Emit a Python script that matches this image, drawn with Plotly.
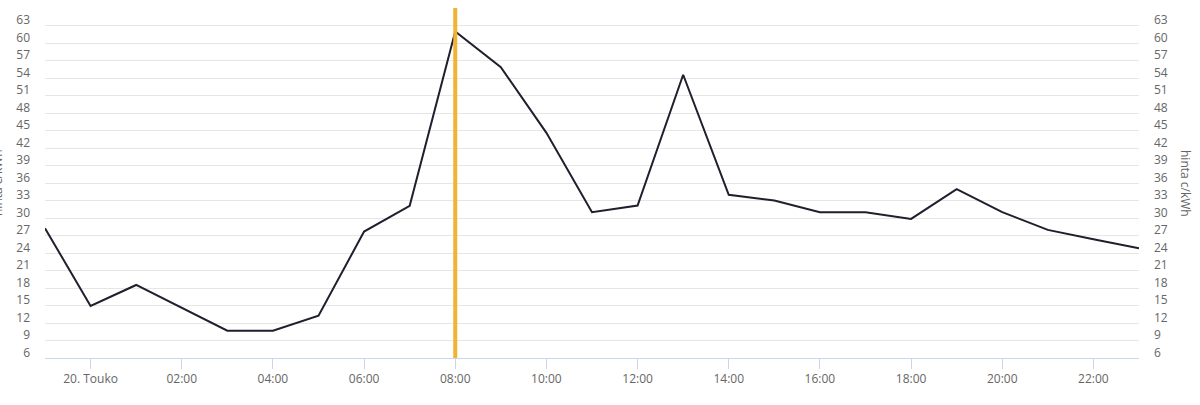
import plotly.graph_objects as go
import pandas as pd

# Hourly timestamps: 19 May 23:00 .. 20 May 23:00
times = pd.date_range("2023-05-19 23:00", "2023-05-20 23:00", freq="h")
prices = [25.25, 11.92, 15.52, 11.6, 7.68, 7.68, 10.26, 24.67, 29.08, 58.98,
          52.84, 41.6, 28.0, 29.13, 51.56, 30.97, 29.99, 28.0, 28.0, 26.85,
          31.94, 28.0, 24.96, 23.36, 21.82]

x_tick_vals = pd.date_range("2023-05-20 00:00", "2023-05-20 22:00", freq="2h")
x_tick_text = ["20. Touko", "02:00", "04:00", "06:00", "08:00", "10:00",
               "12:00", "14:00", "16:00", "18:00", "20:00", "22:00"]
y_tick_vals = list(range(6, 64, 3))
y_range = [3, 63]
current_hour = pd.Timestamp("2023-05-20 08:00")
axis_title = "hinta c/kWh"

FONT = "Open Sans"
GRAY = "#666666"

fig = go.Figure()
fig.add_trace(go.Scatter(
    x=times, y=prices, mode="lines",
    line=dict(color="#1f1f2e", width=2),
    hoverinfo="skip", showlegend=False,
))
# same series bound to the right-hand axis (invisible) so that axis is drawn
fig.add_trace(go.Scatter(
    x=times, y=prices, mode="lines", yaxis="y2",
    line=dict(color="rgba(0,0,0,0)", width=0),
    hoverinfo="skip", showlegend=False,
))

fig.add_shape(type="line", xref="x", yref="paper",
              x0=current_hour, x1=current_hour, y0=0, y1=1,
              line=dict(color="#F2B233", width=4), layer="above")

fig.update_layout(
    width=1200, height=405,
    margin=dict(l=45, r=61, t=8, b=47),
    paper_bgcolor="white", plot_bgcolor="white",
    font=dict(family=FONT, size=12, color=GRAY),
    xaxis=dict(
        range=[times[0], times[-1]],
        tickvals=x_tick_vals, ticktext=x_tick_text,
        ticks="outside", ticklen=10, tickcolor="#ccd6eb", tickwidth=1,
        showline=True, linecolor="#ccd6eb", linewidth=1,
        showgrid=False, zeroline=False, automargin=False,
        tickfont=dict(family=FONT, size=12, color=GRAY),
    ),
    yaxis=dict(
        range=y_range, tickvals=y_tick_vals,
        showgrid=True, gridcolor="#e6e6e6", gridwidth=1,
        zeroline=False, showline=False, ticks="", automargin=False,
        ticklabelshift=12, ticklabelstandoff=14,
        tickfont=dict(family=FONT, size=12, color=GRAY),
    ),
    yaxis2=dict(
        range=y_range, tickvals=y_tick_vals,
        overlaying="y", side="right",
        showgrid=False, zeroline=False, showline=False, ticks="", automargin=False,
        ticklabelshift=12, ticklabelstandoff=14,
        tickfont=dict(family=FONT, size=12, color=GRAY),
    ),
    annotations=[
        dict(text=axis_title, xref="paper", yref="paper", x=0, y=0.5,
             xanchor="center", yanchor="middle",
             xshift=-48, textangle=-90, showarrow=False,
             font=dict(family=FONT, size=12, color=GRAY)),
        dict(text=axis_title, xref="paper", yref="paper", x=1, y=0.5,
             xanchor="center", yanchor="middle",
             xshift=47, textangle=90, showarrow=False,
             font=dict(family=FONT, size=12, color=GRAY)),
    ],
)

fig.write_html("out.html", config={"displayModeBar": False},
               post_script="document.body.style.margin='0';document.body.style.overflow='hidden';")
